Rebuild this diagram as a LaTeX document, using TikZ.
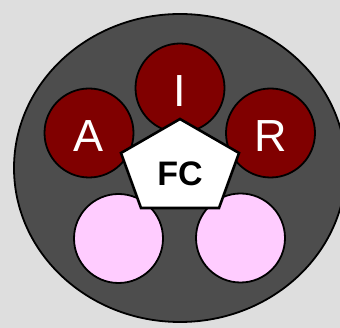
\documentclass[tikz,border=0pt]{standalone}
\usepackage{fontspec}
\setmainfont{Liberation Sans}
\usetikzlibrary{calc}
\definecolor{bggray}{HTML}{DEDEDE}
\definecolor{ringgray}{HTML}{4D4D4D}
\definecolor{dred}{HTML}{800000}
\definecolor{lpink}{HTML}{FFCCFF}
\tikzset{
  % round seat on the ring, white letter inside
  seat/.style   = {circle, draw=black, line width=1.8pt, fill=#1, minimum size=89pt,
                   inner sep=0pt, text=white, text height=37pt, text depth=0pt,
                   font=\fontsize{45}{45}\selectfont},
  seat/.default = dred,
  ring/.style   = {draw=black, line width=1.8pt, fill=ringgray},
  hub/.style    = {draw=black, line width=2.6pt, fill=white, line join=miter},
  hubtext/.style = {font=\fontsize{34}{34}\selectfont\bfseries, text=black},
}
\begin{document}
\begin{tikzpicture}[x=1pt,y=-1pt]
\clip (0,0) rectangle (340,328);
\fill[bggray] (0,0) rectangle (340,328);
% outer ring
\draw[ring] (180,168) ellipse [x radius=166, y radius=154];
% seats
\node[seat] (A) at (89,133) {A};
\node[seat] (I) at (180,88) {I};
\node[seat] (R) at (270.5,133) {R};
\node[seat=lpink] (pl) at (118.5,238.5) {};
\node[seat=lpink] (pr) at (240.5,238) {};
% centre pentagon
\coordinate (h1) at (180,119);
\coordinate (h2) at (239,153);
\coordinate (h3) at (219,208);
\coordinate (h4) at (141,208);
\coordinate (h5) at (121,153);
\draw[hub] (h1) -- (h2) -- (h3) -- (h4) -- (h5) -- cycle;
\node[hubtext] (fc) at (180,174) {FC};
\end{tikzpicture}
\end{document}
